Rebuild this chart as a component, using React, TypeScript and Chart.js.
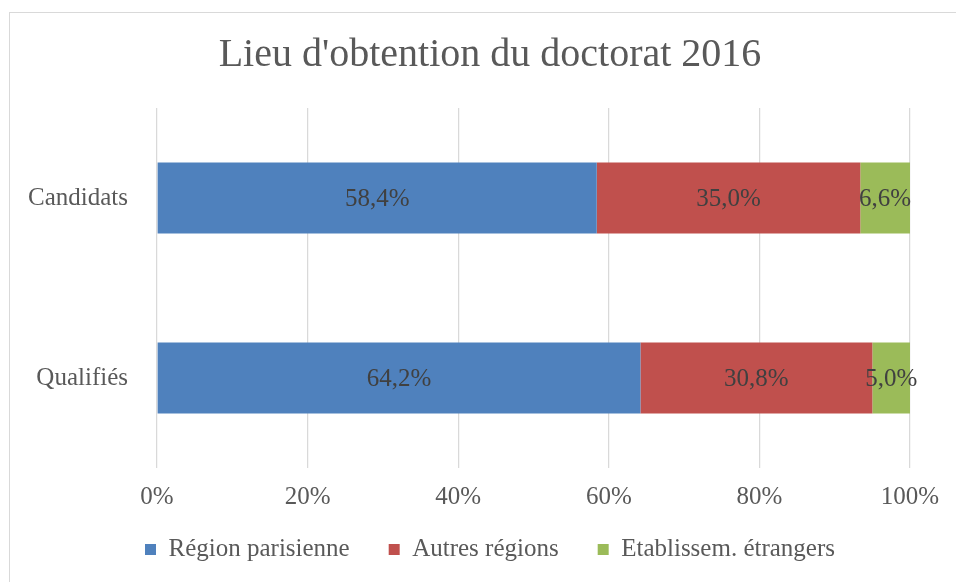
import React, { useEffect, useRef } from "react";
import { Chart, registerables } from "chart.js";

Chart.register(...registerables);

const categories = ["Candidats", "Qualifiés"];
const seriesNames = ["Région parisienne", "Autres régions", "Etablissem. étrangers"];
const regionParisienne = [58.4, 64.2];
const autresRegions = [35.0, 30.8];
const etrangers = [6.6, 5.0];
const xTicks = [0, 20, 40, 60, 80, 100];
const title = "Lieu d'obtention du doctorat 2016";

const colors = ["#4F81BD", "#C0504D", "#9BBB59"];
const FONT = "'Liberation Serif', 'DejaVu Serif', serif";

const fmt = (v: number) => v.toFixed(1).replace(".", ",") + "%";

const bgPlugin = {
  id: "bgBorder",
  beforeDraw(chart: any) {
    const ctx = chart.ctx;
    ctx.save();
    ctx.fillStyle = "#ffffff";
    ctx.fillRect(0, 0, chart.width, chart.height);
    ctx.strokeStyle = "#d9d9d9";
    ctx.lineWidth = 1;
    ctx.strokeRect(9.5, 12.5, chart.width + 20, chart.height + 20);
    ctx.restore();
  },
};

const labelPlugin = {
  id: "barLabels",
  afterDatasetsDraw(chart: any) {
    const ctx = chart.ctx;
    ctx.save();
    ctx.font = `25px ${FONT}`;
    ctx.fillStyle = "#404040";
    ctx.textAlign = "center";
    ctx.textBaseline = "middle";
    chart.data.datasets.forEach((ds: any, di: number) => {
      const meta = chart.getDatasetMeta(di);
      meta.data.forEach((bar: any, i: number) => {
        const p = bar.getProps(["x", "y", "base"], true);
        const cx = (p.x + p.base) / 2;
        ctx.fillText(fmt(ds.data[i]), cx, p.y + 1);
      });
    });
    ctx.restore();
  },
};

export default function App() {
  const ref = useRef<HTMLCanvasElement>(null);
  useEffect(() => {
    if (!ref.current) return;
    const seriesData = [regionParisienne, autresRegions, etrangers];
    const chart = new Chart(ref.current, {
      type: "bar",
      data: {
        labels: categories,
        datasets: seriesNames.map((name, k) => ({
          label: name,
          data: seriesData[k],
          backgroundColor: colors[k],
          borderWidth: 0,
          barPercentage: 0.395,
          categoryPercentage: 1,
        })),
      },
      options: {
        indexAxis: "y",
        responsive: false,
        animation: false,
        layout: { padding: { left: 70, right: 46, top: 0, bottom: 10 } },
        scales: {
          x: {
            stacked: true,
            min: 0,
            max: 100,
            afterBuildTicks(scale: any) {
              scale.ticks = xTicks.map((v) => ({ value: v }));
            },
            afterFit(scale: any) {
              scale.height = 30;
              scale._computeLabelArea = () => undefined;
            },
            ticks: {
              padding: 14,
              color: "#595959",
              font: { family: FONT, size: 25 },
              callback: (v: any) => v + "%",
            },
            grid: { color: "#d9d9d9", lineWidth: 1.25, drawTicks: false },
            border: { display: false },
          },
          y: {
            stacked: true,
            afterFit(scale: any) {
              scale.width = 87;
              scale._computeLabelArea = () => undefined;
            },
            ticks: {
              padding: 29,
              color: "#595959",
              font: { family: FONT, size: 25 },
            },
            grid: { display: false, drawTicks: false },
            border: { display: false },
          },
        },
        plugins: {
          title: {
            display: true,
            text: title,
            color: "#595959",
            font: { family: FONT, size: 40, weight: "normal" },
            padding: { top: 31, bottom: 29 },
          },
          legend: {
            position: "bottom",
            labels: {
              boxWidth: 11,
              boxHeight: 11,
              padding: 39,
              color: "#595959",
              font: { family: FONT, size: 25 },
            },
          },
          tooltip: { enabled: false },
        },
      },
      plugins: [bgPlugin, labelPlugin],
    } as any);
    return () => chart.destroy();
  }, []);
  return (
    <div style={{ position: "absolute", left: 0, top: 0, width: 956, height: 582 }}>
      <canvas ref={ref} width={956} height={582} style={{ display: "block" }} />
    </div>
  );
}
